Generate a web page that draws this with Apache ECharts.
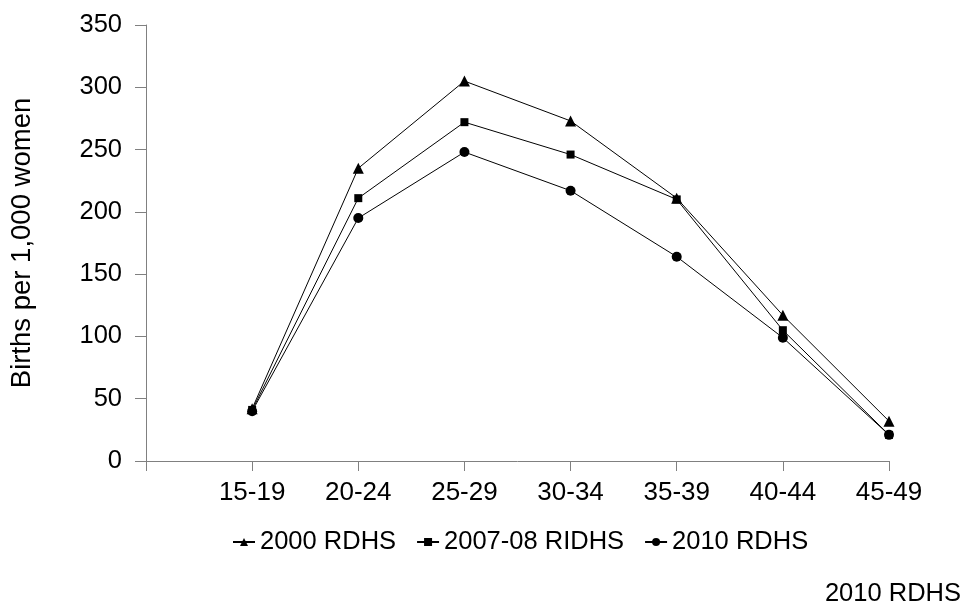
<!DOCTYPE html>
<html><head><meta charset="utf-8">
<script src="https://cdn.jsdelivr.net/npm/echarts@6/dist/echarts.min.js"></script>
<style>html,body{margin:0;padding:0;background:#fff}#c{width:964px;height:604px}</style>
</head><body><div id="c"></div>
<script>
// Age groups (x categories)
const ageGroups = ['15-19', '20-24', '25-29', '30-34', '35-39', '40-44', '45-49'];
// Births per 1,000 women
const rdhs2000 = [42, 235, 305, 273, 211, 117, 32];
const ridhs2007 = [41, 211, 272, 246, 210, 105, 21];
const rdhs2010 = [40, 195, 248, 217, 164, 99, 21];
const seriesNames = ['2000 RDHS', '2007-08 RIDHS', '2010 RDHS'];
const yMin = 0, yMax = 350, yStep = 50;
const yTitle = 'Births per 1,000 women';
const sourceNote = '2010 RDHS';

const FONT = 'Liberation Sans, Arial, sans-serif';
const axisGray = '#808080';

// leading empty slot so the first age group sits one step right of the y axis
const xCats = [''].concat(ageGroups);
const pad = v => ['-'].concat(v);

function mkSeries(name, data, symbol, size) {
  return {
    name: name, type: 'line', data: pad(data),
    symbol: symbol, symbolSize: size, showSymbol: true,
    lineStyle: { color: '#000', width: 1 },
    itemStyle: { color: '#000', borderWidth: 0 },
    emphasis: { disabled: true },
    animation: false
  };
}

const chart = echarts.init(document.getElementById('c'), null, { renderer: 'canvas' });
chart.setOption({
  backgroundColor: '#fff',
  animation: false,
  textStyle: { fontFamily: FONT },
  grid: { left: 145, right: 75, top: 25, bottom: 143 },
  legend: {
    data: seriesNames,
    left: 227, top: 524,
    itemWidth: 22, itemHeight: 10, itemGap: 20,
    textStyle: { fontFamily: FONT, fontSize: 25.5, color: '#000' }
  },
  xAxis: {
    type: 'category', data: xCats, boundaryGap: false,
    axisLine: { show: true, lineStyle: { color: axisGray, width: 1 } },
    axisTick: { show: true, length: 10, interval: 0, lineStyle: { color: axisGray } },
    axisLabel: { interval: 0, margin: 19, fontFamily: FONT, fontSize: 26, color: '#000' },
    splitLine: { show: false }
  },
  yAxis: {
    type: 'value', min: yMin, max: yMax, interval: yStep,
    name: yTitle, nameLocation: 'middle', nameGap: 110,
    nameTextStyle: { fontFamily: FONT, fontSize: 27.5, color: '#000' },
    axisLine: { show: true, lineStyle: { color: axisGray, width: 1 } },
    axisTick: { show: true, length: 11, lineStyle: { color: axisGray } },
    axisLabel: { margin: 24, fontFamily: FONT, fontSize: 25.5, color: '#000' },
    splitLine: { show: false }
  },
  series: [
    mkSeries(seriesNames[0], rdhs2000, 'triangle', 11),
    mkSeries(seriesNames[1], ridhs2007, 'rect', 8),
    mkSeries(seriesNames[2], rdhs2010, 'circle', 10)
  ],
  graphic: [{
    type: 'text', right: 3, top: 581,
    style: { text: sourceNote, fontFamily: FONT, fontSize: 25.5, fill: '#000' }
  }]
});
</script></body></html>
